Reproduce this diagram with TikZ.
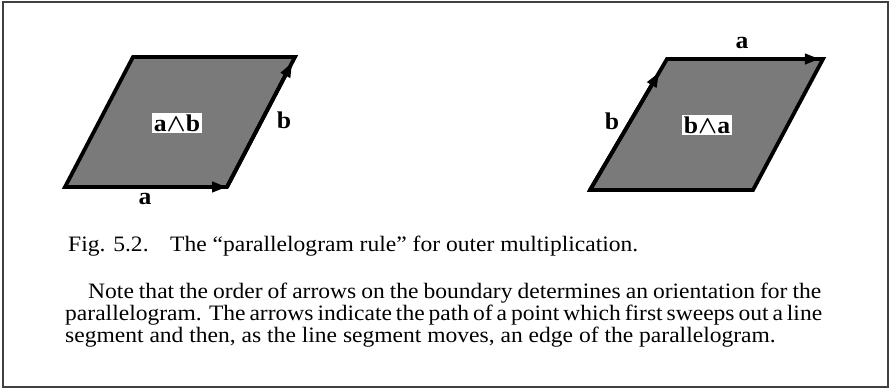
\documentclass[tikz,border=0pt]{standalone}
\usepackage{fontspec}
\setmainfont[FakeStretch=1.07]{Liberation Serif}
\usetikzlibrary{arrows.meta,calc}
\begin{document}
\begin{tikzpicture}[x=1pt,y=-1pt,
  pgram/.style={draw=black,fill=black!52,line width=3.8pt,line join=miter},
  arrowline/.style={line width=3.8pt,-{Triangle[length=15pt,width=10pt]}},
  lbl/.style={font=\fontsize{24}{28}\selectfont\bfseries,inner sep=1pt},
  wlbl/.style={font=\fontsize{24}{28}\selectfont\bfseries,fill=white,inner sep=1.5pt},
  txt/.style={font=\fontsize{22}{26}\selectfont,anchor=base west,inner sep=0pt}]
\useasboundingbox (0,0) rectangle (890,390);
\draw[black!75,line width=2pt] (2.5,2.5) rectangle (887.5,387);
% left parallelogram
\coordinate (L1) at (65,187);
\coordinate (L2) at (227,187);
\coordinate (L3) at (295,57);
\coordinate (L4) at (133,57);
\draw[pgram] (L1) -- (L2) -- (L3) -- (L4) -- cycle;
\draw[arrowline] (L1) -- (L2);
\draw[arrowline] (L2) -- ($(L2)!0.96!(L3)$);
\node[wlbl] (lab) at (177,123) {a{\boldmath$\wedge$}b};
\node[lbl] (la) at (145,199) {a};
\node[lbl] (lb) at (284,120) {b};
% right parallelogram
\coordinate (R1) at (590,190);
\coordinate (R2) at (753,190);
\coordinate (R3) at (823,59);
\coordinate (R4) at (667,59);
\draw[pgram] (R1) -- (R2) -- (R3) -- (R4) -- cycle;
\draw[arrowline] (R1) -- ($(R1)!0.9!(R4)$);
\draw[arrowline] (R4) -- ($(R4)!0.98!(R3)$);
\node[wlbl] (rba) at (707,125) {b{\boldmath$\wedge$}a};
\node[lbl] (ra) at (742,43) {a};
\node[lbl] (rb) at (612,121) {b};
% caption and text
\node[txt] (fig) at (68,251) {Fig. 5.2.};
\node[txt] (cap) at (170,251) {The ``parallelogram rule'' for outer multiplication.};
\node[txt] (p1) at (88,298) {\makebox[733pt][s]{Note that the order of arrows on the boundary determines an orientation for the}};
\node[txt] (p2) at (65,320) {\makebox[756pt][s]{parallelogram. The arrows indicate the path of a point which first sweeps out a line}};
\node[txt] (p3) at (65,342) {segment and then, as the line segment moves, an edge of the parallelogram.};
\end{tikzpicture}
\end{document}
